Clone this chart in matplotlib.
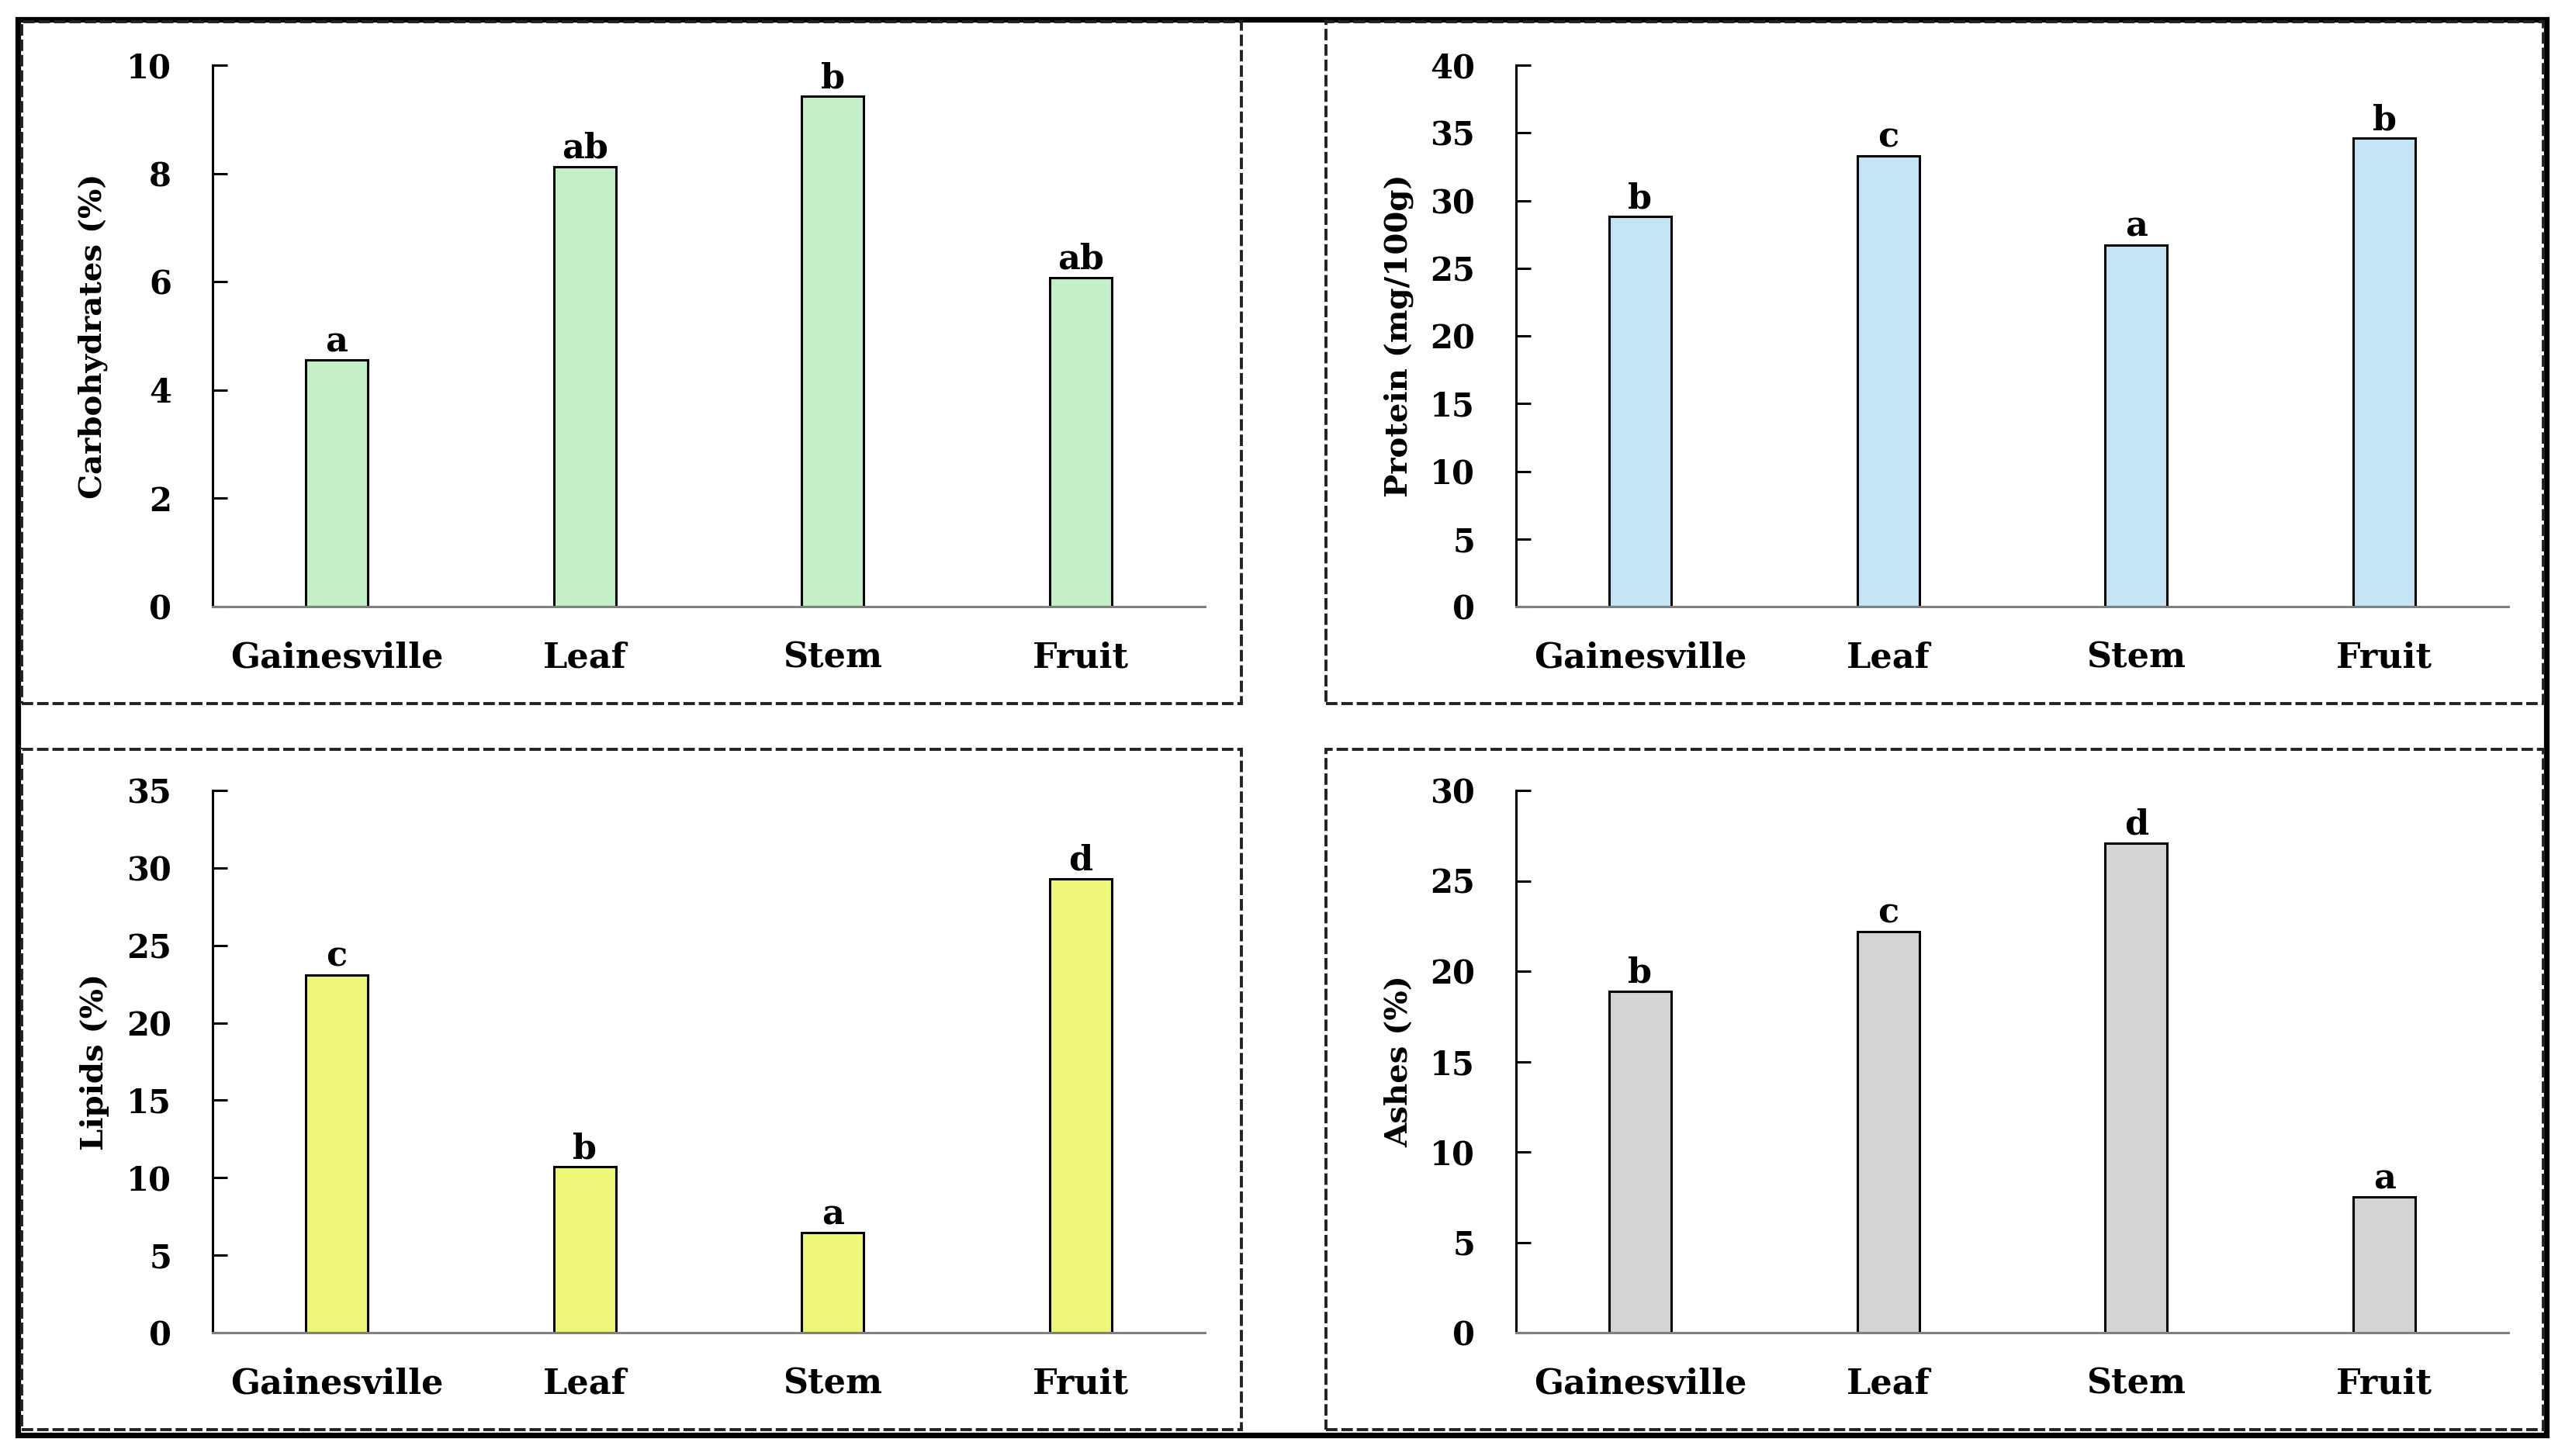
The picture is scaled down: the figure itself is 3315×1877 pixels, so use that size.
import matplotlib.pyplot as plt
from matplotlib.patches import Rectangle

categories = ["Gainesville", "Leaf", "Stem", "Fruit"]

carbs = [4.55, 8.13, 9.42, 6.08]
carbs_letters = ["a", "ab", "b", "ab"]

protein = [28.8, 33.3, 26.7, 34.6]
protein_letters = ["b", "c", "a", "b"]

lipids = [23.1, 10.7, 6.45, 29.3]
lipids_letters = ["c", "b", "a", "d"]

ashes = [18.9, 22.2, 27.1, 7.5]
ashes_letters = ["b", "c", "d", "a"]

W, H = 3316, 1877
DPI = 200
FONT = "DejaVu Serif"

fig = plt.figure(figsize=(W / DPI, H / DPI), dpi=DPI)


def fx(px):
    return px / W


def fy(py):
    return 1 - py / H


def frame(x0, y0, x1, y1, **kw):
    r = Rectangle((fx(x0), fy(y1)), fx(x1) - fx(x0), fy(y0) - fy(y1),
                  transform=fig.transFigure, fill=False, **kw)
    fig.add_artist(r)


def panel(x0, y0, x1, y1, values, letters, color, ylabel, ymax, ystep, label_x):
    ax = fig.add_axes([fx(x0), fy(y1), fx(x1) - fx(x0), fy(y0) - fy(y1)])
    xs = range(len(categories))
    bars = ax.bar(xs, values, width=0.25, color=color, edgecolor="black",
                  linewidth=1.1, zorder=3)
    for b, lab in zip(bars, letters):
        ax.annotate(lab, (b.get_x() + b.get_width() / 2, b.get_height()),
                    xytext=(0, 4), textcoords="offset points",
                    ha="center", va="baseline", fontsize=16,
                    fontweight="bold", family=FONT)
    ax.set_xlim(-0.5, 3.5)
    ax.set_ylim(0, ymax)
    ax.set_yticks(range(0, ymax + 1, ystep))
    ax.set_xticks(list(xs))
    ax.set_xticklabels(categories)
    for s in ("top", "right"):
        ax.spines[s].set_visible(False)
    ax.spines["left"].set_linewidth(1.1)
    ax.spines["left"].set_color("black")
    ax.spines["bottom"].set_linewidth(1.1)
    ax.spines["bottom"].set_color("#808080")
    ax.spines["bottom"].set_zorder(4)
    ax.tick_params(axis="y", direction="in", length=7, width=1.1, pad=19,
                   labelsize=15)
    ax.tick_params(axis="x", length=0, pad=16, labelsize=16)
    for t in ax.get_xticklabels() + ax.get_yticklabels():
        t.set_family(FONT)
        t.set_fontweight("bold")
    fig.text(fx(label_x), fy((y0 + y1) / 2), ylabel, rotation=90,
             ha="center", va="center", fontsize=14.5, fontweight="bold",
             family=FONT)
    return ax


# outer frame and dashed panel borders
frame(23.5, 24.5, 3281.5, 1849.5, linewidth=2.6, edgecolor="black")
dash = dict(linewidth=1.4, edgecolor="#222222", linestyle=(0, (3.8, 1.3)))
frame(28, 28, 1600, 907, **dash)
frame(1709, 28, 3278, 907, **dash)
frame(28, 966, 1600, 1843, **dash)
frame(1709, 966, 3278, 1843, **dash)

panel(274, 84, 1553, 782, carbs, carbs_letters, "#c4f0c8",
      "Carbohydrates (%)", 10, 2, 120)
panel(1954, 84, 3233, 782, protein, protein_letters, "#c3e5f5",
      "Protein (mg/100g)", 40, 5, 1803)
panel(274, 1019, 1553, 1718, lipids, lipids_letters, "#eef77a",
      "Lipids (%)", 35, 5, 122)
panel(1954, 1019, 3233, 1718, ashes, ashes_letters, "#d4d4d4",
      "Ashes (%)", 30, 5, 1803)

fig.savefig("out.png", dpi=DPI)
